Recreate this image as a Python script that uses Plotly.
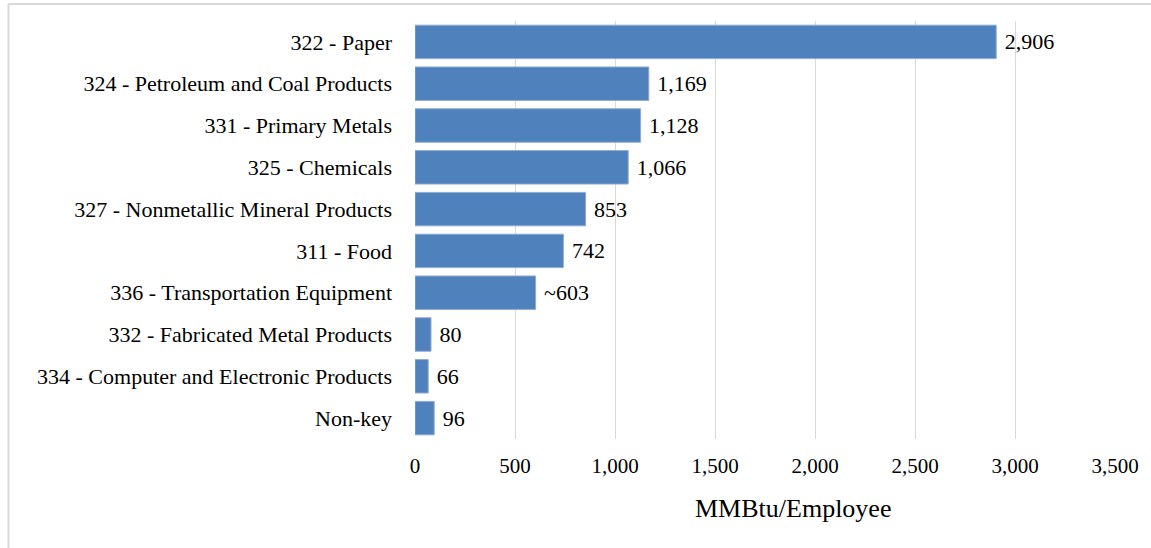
import plotly.graph_objects as go

# industries (top to bottom) and energy intensity per employee
categories = [
    "322 - Paper",
    "324 - Petroleum and Coal Products",
    "331 - Primary Metals",
    "325 - Chemicals",
    "327 - Nonmetallic Mineral Products",
    "311 - Food",
    "336 - Transportation Equipment",
    "332 - Fabricated Metal Products",
    "334 - Computer and Electronic Products",
    "Non-key",
]
values = [2906, 1169, 1128, 1066, 853, 742, 603, 80, 66, 96]
labels = ["2,906", "1,169", "1,128", "1,066", "853", "742", "~603", "80", "66", "96"]
tick_vals = [0, 500, 1000, 1500, 2000, 2500, 3000, 3500]

font = "Liberation Serif"

fig = go.Figure(go.Bar(
    y=categories,
    x=values,
    orientation="h",
    text=labels,
    texttemplate=" %{text}",
    textposition="outside",
    textfont=dict(family=font, size=22, color="#000000"),
    cliponaxis=False,
    marker=dict(color="#4f81bd", line=dict(color="#8eaad6", width=1)),
    width=0.8,
))

L, R, T, B = 415, 30, 21, 109
W, H = 1151, 548
pw, ph = W - L - R, H - T - B

fig.update_layout(
    width=W, height=H,
    margin=dict(l=L, r=R, t=T, b=B),
    paper_bgcolor="white",
    plot_bgcolor="white",
    showlegend=False,
    font=dict(family=font, color="#000000"),
    xaxis=dict(
        range=[0, 3500],
        tickvals=tick_vals,
        tickformat=",",
        showgrid=True,
        gridcolor="#d9d9d9",
        gridwidth=1,
        zeroline=False,
        showline=False,
        tickfont=dict(family=font, size=21),
        ticklabelstandoff=12,
    ),
    yaxis=dict(
        autorange="reversed",
        showgrid=False,
        showline=False,
        tickfont=dict(family=font, size=22),
        ticklabelstandoff=22,
    ),
    annotations=[dict(
        text="MMBtu/Employee",
        x=(796 - L) / pw, y=(H - B - 508) / ph,
        xref="paper", yref="paper",
        xanchor="center", yanchor="middle",
        showarrow=False,
        font=dict(family=font, size=26, color="#000000"),
    )],
    shapes=[
        dict(type="line", xref="paper", yref="paper",
             x0=(5 - L) / pw, x1=(W + 10 - L) / pw,
             y0=(H - B - 4) / ph, y1=(H - B - 4) / ph,
             line=dict(color="#d9d9d9", width=2)),
        dict(type="line", xref="paper", yref="paper",
             x0=(5 - L) / pw, x1=(5 - L) / pw,
             y0=(H - B - 4) / ph, y1=(H - B - H - 10) / ph,
             line=dict(color="#d9d9d9", width=2)),
    ],
)

fig.write_html("out.html", config={"displayModeBar": False},
               post_script="document.body.style.margin='0';")
